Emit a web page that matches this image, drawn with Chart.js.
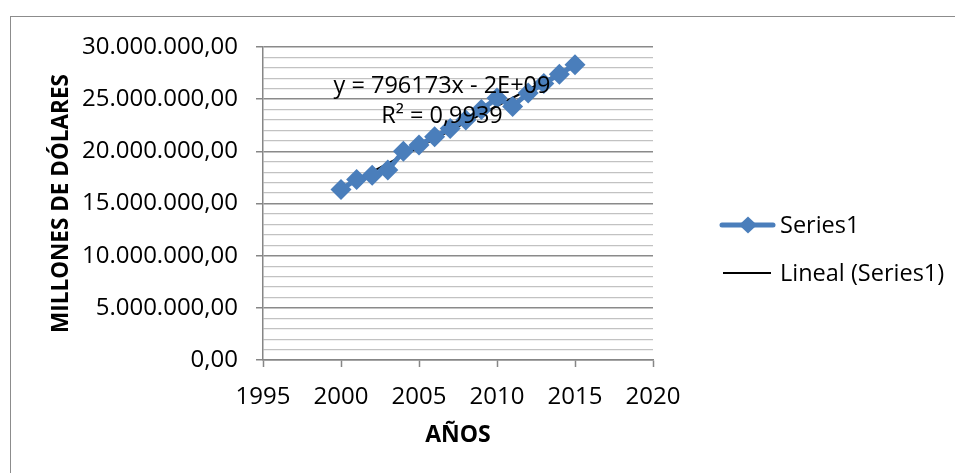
<!DOCTYPE html>
<html>
<head>
<meta charset="utf-8">
<script src="https://cdn.jsdelivr.net/npm/chart.js@4"></script>
<style>
  html, body { margin: 0; padding: 0; background: #ffffff; overflow: hidden; }
  #wrap { position: relative; width: 955px; height: 473px; }
  #frame { position: absolute; left: 10px; top: 16px; width: 1200px; height: 800px;
           border: 1.5px solid #8c8c8c; box-sizing: border-box; pointer-events: none; }
  canvas { position: absolute; left: 0; top: 0; }
</style>
</head>
<body>
<div id="wrap">
  <div id="frame"></div>
  <canvas id="c" width="955" height="473"></canvas>
</div>
<script>
// ---- data ----
const years = [2000, 2001, 2002, 2003, 2004, 2005, 2006, 2007, 2008, 2009, 2010, 2011, 2012, 2013, 2014, 2015];
const values = [16350000, 17300000, 17700000, 18200000, 20000000, 20600000, 21400000, 22200000,
                23000000, 24000000, 25100000, 24300000, 25600000, 26500000, 27400000, 28300000];
const seriesName = 'Series1';
const trendName = 'Lineal (Series1)';
const equationLines = ['y = 796173x - 2E+09', 'R² = 0,9939'];
const xTitle = 'AÑOS';
const yTitle = 'MILLONES DE DÓLARES';

// least-squares trend line (what the spreadsheet's "Lineal" trendline is)
const n = years.length;
const mx = years.reduce((a, b) => a + b, 0) / n;
const my = values.reduce((a, b) => a + b, 0) / n;
let sxy = 0, sxx = 0;
for (let i = 0; i < n; i++) { sxy += (years[i] - mx) * (values[i] - my); sxx += (years[i] - mx) ** 2; }
const slope = sxy / sxx;
const intercept = my - slope * mx;
const trendYears = [years[0], years[n - 1]];

const FONT = "'Open Sans', 'Liberation Sans', sans-serif";
const BLUE = '#4a7ebb';
const AXIS = '#868686';

function fmt(v) {
  const s = Math.round(v).toString();
  return s.replace(/\B(?=(\d{3})+(?!\d))/g, '.') + ',00';
}
function isMajor(v) { return Math.round(v / 1e6) % 5 === 0; }

const overlay = {
  id: 'overlay',
  afterDatasetsDraw(chart) {
    const ctx = chart.ctx;
    ctx.save();
    ctx.fillStyle = '#000';
    ctx.font = '23.5px ' + FONT;
    ctx.textAlign = 'center';
    ctx.textBaseline = 'middle';
    ctx.fillText(equationLines[0], 442, 86);
    ctx.fillText(equationLines[1], 442, 116);
    ctx.restore();
  },
  afterDraw(chart) {
    const ctx = chart.ctx;
    ctx.save();
    // Series1 legend entry
    ctx.strokeStyle = BLUE; ctx.lineWidth = 5; ctx.lineCap = 'round';
    ctx.beginPath(); ctx.moveTo(722, 225); ctx.lineTo(773, 225); ctx.stroke();
    ctx.fillStyle = BLUE;
    ctx.beginPath(); ctx.moveTo(748 - 9, 225); ctx.lineTo(748, 225 - 8.5); ctx.lineTo(748 + 9, 225); ctx.lineTo(748, 225 + 8.5); ctx.closePath(); ctx.fill();
    // trend legend entry
    ctx.strokeStyle = '#000'; ctx.lineWidth = 2; ctx.lineCap = 'butt';
    ctx.beginPath(); ctx.moveTo(723, 273); ctx.lineTo(771, 273); ctx.stroke();
    ctx.fillStyle = '#000';
    ctx.font = '23.5px ' + FONT;
    ctx.textAlign = 'left'; ctx.textBaseline = 'middle';
    ctx.fillText(seriesName, 780, 226);
    ctx.fillText(trendName, 780, 274);
    ctx.restore();
  }
};

new Chart(document.getElementById('c'), {
  type: 'scatter',
  data: {
    datasets: [
      {
        label: seriesName,
        data: years.map((y, i) => ({ x: y, y: values[i] })),
        showLine: true,
        borderColor: BLUE,
        borderWidth: 5,
        backgroundColor: BLUE,
        pointStyle: 'rectRot',
        pointRadius: 10.5,
        pointBorderWidth: 0,
        pointBackgroundColor: BLUE
      },
      {
        label: trendName,
        data: trendYears.map(y => ({ x: y, y: slope * y + intercept })),
        showLine: true,
        borderColor: '#000000',
        borderWidth: 2,
        pointRadius: 0
      }
    ]
  },
  options: {
    responsive: false,
    animation: false,
    layout: { padding: { left: 0, top: 47, right: 302, bottom: 0 } },
    plugins: { legend: { display: false }, tooltip: { enabled: false } },
    scales: {
      x: {
        type: 'linear', min: 1995, max: 2020,
        afterFit(scale) { scale.height = 113; },
        ticks: { stepSize: 5, color: '#000', padding: 16, font: { family: FONT, size: 24 },
                 callback: v => String(v) },
        grid: { drawOnChartArea: false, drawTicks: true, tickLength: 7, color: AXIS, tickColor: AXIS, tickWidth: 1.5 },
        border: { display: true, color: AXIS, width: 1.5 },
        title: { display: true, text: xTitle, color: '#000',
                 font: { family: FONT, size: 23, weight: 'bold' }, padding: { top: 0, bottom: 24 } }
      },
      y: {
        type: 'linear', min: 0, max: 30000000,
        afterFit(scale) { scale.width = 263; },
        ticks: { stepSize: 1000000, autoSkip: false, color: '#000', padding: 18,
                 font: { family: FONT, size: 24 },
                 callback: v => isMajor(v) ? fmt(v) : '' },
        grid: {
          drawTicks: true, tickLength: 7,
          color: c => (c.tick && isMajor(c.tick.value)) ? '#8a8a8a' : '#c2c2c2',
          lineWidth: c => (c.tick && isMajor(c.tick.value)) ? 1.5 : 1.2,
          tickColor: c => (c.tick && isMajor(c.tick.value)) ? AXIS : 'rgba(0,0,0,0)',
          tickWidth: 1.5
        },
        border: { display: true, color: AXIS, width: 1.5 },
        title: { display: true, text: yTitle, color: '#000',
                 font: { family: FONT, size: 22.5, weight: 'bold' }, padding: { top: 48, bottom: 0 } }
      }
    }
  },
  plugins: [overlay]
});
</script>
</body>
</html>
